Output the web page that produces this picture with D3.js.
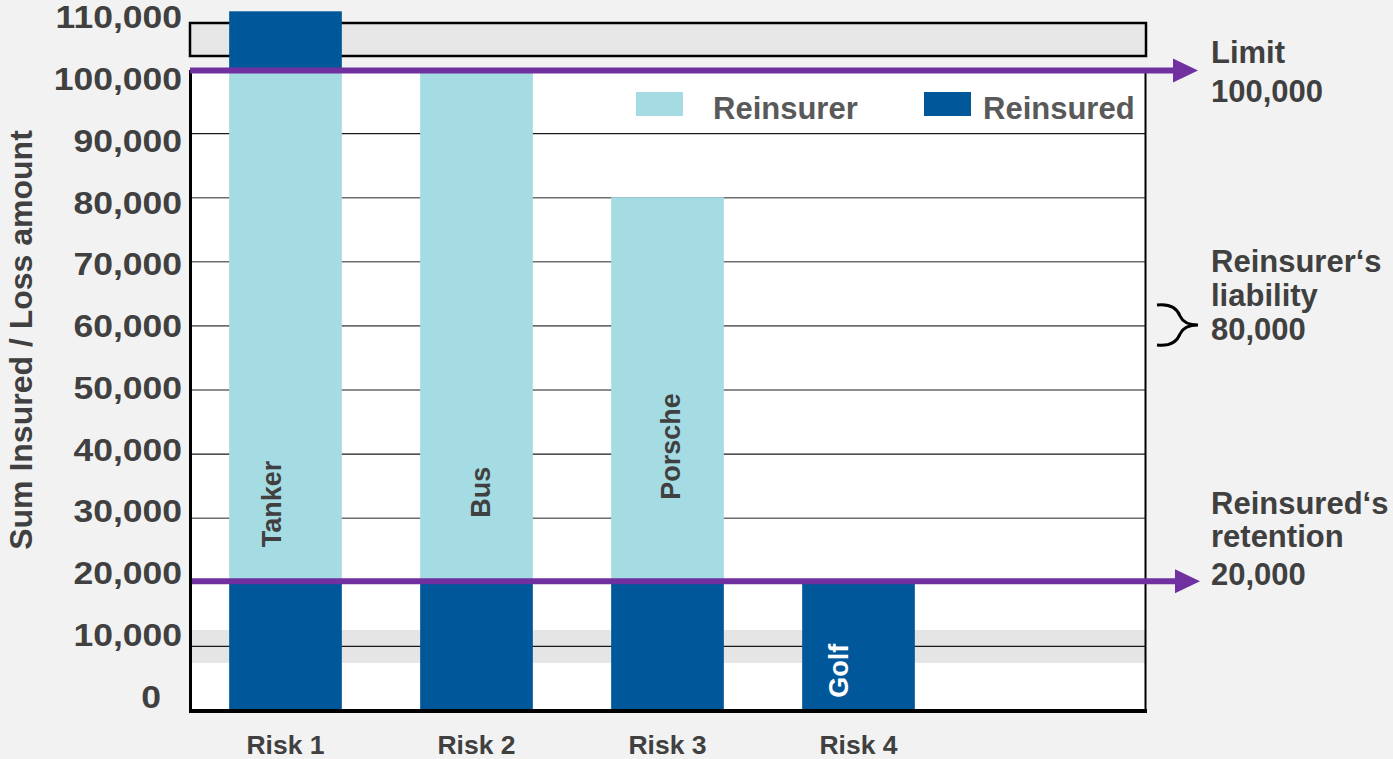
<!DOCTYPE html>
<html>
<head>
<meta charset="utf-8">
<script src="https://cdn.jsdelivr.net/npm/d3@7/dist/d3.min.js"></script>
<style>
  html, body { margin: 0; padding: 0; background: #f2f2f2; }
  svg { display: block; font-family: "Liberation Sans", Arial, sans-serif; font-weight: bold; }
</style>
</head>
<body>
<svg id="chart" width="1393" height="759"></svg>
<script>
// ---------- data ----------
const categories = ["Risk 1", "Risk 2", "Risk 3", "Risk 4"];
const riskNames = ["Tanker", "Bus", "Porsche", "Golf"];
const reinsuredRetained = [20000, 20000, 20000, 20000];   // retention part (dark)
const reinsurerShare   = [80000, 80000, 60000, 0];        // reinsurer part (light)
const reinsuredExcess  = [9000, 0, 0, 0];                 // above the limit (dark)
const labelAnchorValue = [25400, 30000, 32800, 1900];     // where the vertical names start
const yTicks = [0, 10000, 20000, 30000, 40000, 50000, 60000, 70000, 80000, 90000, 100000, 110000];
const gridValues = [10000, 30000, 40000, 50000, 60000, 70000, 80000, 90000];
const retention = 20000;
const limit = 100000;
const legendLabels = ["Reinsurer", "Reinsured"];
const annotations = [
  { lines: ["Limit", "100,000"] },
  { lines: ["Reinsurer‘s", "liability", "80,000"] },
  { lines: ["Reinsured‘s", "retention", "20,000"] }
];

// ---------- setup ----------
const DARK = "#00589b", LIGHT = "#a5dbe3", PURPLE = "#7030a0", TXT = "#404040";
const svg = d3.select("#chart");
const plotL = 190, plotR = 1145, plotB = 710;

const x = d3.scaleBand().domain(d3.range(5)).range([plotL, plotR]).paddingInner(0.41).paddingOuter(0.205);
const y = d3.scaleLinear().domain([0, 100000]).range([plotB, 69]);
const yLabel = d3.scaleLinear().domain([0, 110000]).range([697, 17.5]);

const table = categories.map((c, i) => ({
  idx: i, name: riskNames[i],
  retained: reinsuredRetained[i], reinsurer: reinsurerShare[i], excess: reinsuredExcess[i]
}));
const keys = ["retained", "reinsurer", "excess"];
const colorOf = { retained: DARK, reinsurer: LIGHT, excess: DARK };
const stack = d3.stack().keys(keys)(table);

// top grey box
svg.append("rect").attr("x", plotL).attr("y", 23).attr("width", plotR - plotL + 1).attr("height", 33)
  .attr("fill", "#e6e6e6").attr("stroke", "#000").attr("stroke-width", 2.5);

// plot background
svg.append("rect").attr("x", plotL).attr("y", y(limit)).attr("width", plotR - plotL)
  .attr("height", plotB - y(limit)).attr("fill", "#fff");

// grey band around 10,000
svg.append("rect").attr("x", plotL).attr("y", y(10000) - 16).attr("width", plotR - plotL)
  .attr("height", 33).attr("fill", "#e5e5e5");

// gridlines
const gridDark = new Set([10000, 40000, 50000, 90000]);
svg.append("g").attr("transform", `translate(${plotL},0)`)
  .call(d3.axisLeft(y).tickValues(gridValues).tickSize(-(plotR - plotL)).tickFormat(""))
  .call(g => g.select(".domain").remove())
  .call(g => g.selectAll("line")
    .attr("stroke", d => gridDark.has(d) ? "#1a1a1a" : "#6e6e6e")
    .attr("stroke-width", d => gridDark.has(d) ? 1.2 : 1.6));

// axes frame lines
svg.append("line").attr("x1", plotL + 0.5).attr("x2", plotL + 0.5).attr("y1", 70).attr("y2", plotB + 2)
  .attr("stroke", "#000").attr("stroke-width", 3);
svg.append("line").attr("x1", plotR + 0.5).attr("x2", plotR + 0.5).attr("y1", 70).attr("y2", plotB + 2)
  .attr("stroke", "#000").attr("stroke-width", 2);

// bars
svg.append("g").selectAll("g").data(stack).join("g")
  .attr("fill", d => colorOf[d.key])
  .selectAll("rect").data(d => d.filter(s => s[1] > s[0])).join("rect")
  .attr("x", d => x(d.data.idx))
  .attr("width", x.bandwidth())
  .attr("y", d => y(d[1]))
  .attr("height", d => y(d[0]) - y(d[1]));

// bottom axis line
svg.append("line").attr("x1", plotL - 1).attr("x2", plotR + 2).attr("y1", plotB + 1).attr("y2", plotB + 1)
  .attr("stroke", "#000").attr("stroke-width", 4);

// vertical names inside bars
const nameDx = [-5, 13, 12, -11];
svg.append("g").selectAll("text").data(table).join("text")
  .attr("transform", d => `translate(${x(d.idx) + x.bandwidth() / 2 + nameDx[d.idx]},${y(labelAnchorValue[d.idx])}) rotate(-90)`)
  .attr("text-anchor", "start")
  .attr("font-size", 27)
  .attr("fill", d => d.reinsurer > 0 ? TXT : "#fff")
  .text(d => d.name);

// purple arrows
function arrow(v, x0, tip) {
  const yy = y(v);
  svg.append("line").attr("x1", x0).attr("x2", tip - 22).attr("y1", yy).attr("y2", yy)
    .attr("stroke", PURPLE).attr("stroke-width", 6);
  svg.append("path").attr("d", `M${tip - 25},${yy - 12} L${tip},${yy} L${tip - 25},${yy + 12} Z`).attr("fill", PURPLE);
}
arrow(limit - 250, plotL, 1198);
arrow(retention + 100, plotL + 2, 1200);

// y tick labels
svg.append("g").attr("transform", "translate(182,0)")
  .call(d3.axisLeft(yLabel).tickValues(yTicks).tickSize(0).tickPadding(0).tickFormat(d3.format(",")))
  .call(g => g.select(".domain").remove())
  .call(g => g.selectAll("text").attr("font-size", 32).attr("fill", TXT)
    .attr("font-family", "Liberation Sans, Arial, sans-serif").attr("font-weight", "bold")
    .attr("transform", "scale(1.11,1)")
    .attr("dx", d => d === 0 ? -19 : 0));

// y title
svg.append("text").attr("transform", "translate(32,340) rotate(-90)")
  .attr("text-anchor", "middle").attr("font-size", 32).attr("fill", TXT)
  .text("Sum Insured / Loss amount");

// category axis
svg.append("g").attr("transform", `translate(0,${plotB + 2})`)
  .call(d3.axisBottom(x).tickValues([0, 1, 2, 3]).tickSize(0).tickFormat(i => categories[i]))
  .call(g => g.select(".domain").remove())
  .call(g => g.selectAll("text").attr("y", 42).attr("dy", 0).attr("font-size", 26.5).attr("fill", TXT)
    .attr("font-family", "Liberation Sans, Arial, sans-serif").attr("font-weight", "bold"));

// legend
const legendX = [636, 924], legendTextX = [713, 983], legendColors = [LIGHT, DARK];
legendLabels.forEach((lab, i) => {
  svg.append("rect").attr("x", legendX[i]).attr("y", 92).attr("width", 47).attr("height", 24).attr("fill", legendColors[i]);
  svg.append("text").attr("x", legendTextX[i]).attr("y", 119).attr("font-size", 31).attr("fill", "#595959").text(lab);
});

// brace
svg.append("path")
  .attr("d", "M1157,305 Q1175,303 1180,316 Q1184,325 1198,325 M1157,345 Q1175,347 1180,334 Q1184,325 1198,325")
  .attr("fill", "none").attr("stroke", "#000").attr("stroke-width", 3);

// right annotations
const annoBaselines = [[63, 102], [272, 306, 340], [514, 547, 585]];
annotations.forEach((a, i) => {
  const t = svg.append("text").attr("font-size", 31).attr("fill", TXT);
  a.lines.forEach((ln, j) => t.append("tspan").attr("x", 1211).attr("y", annoBaselines[i][j]).text(ln));
});
</script>
</body>
</html>
